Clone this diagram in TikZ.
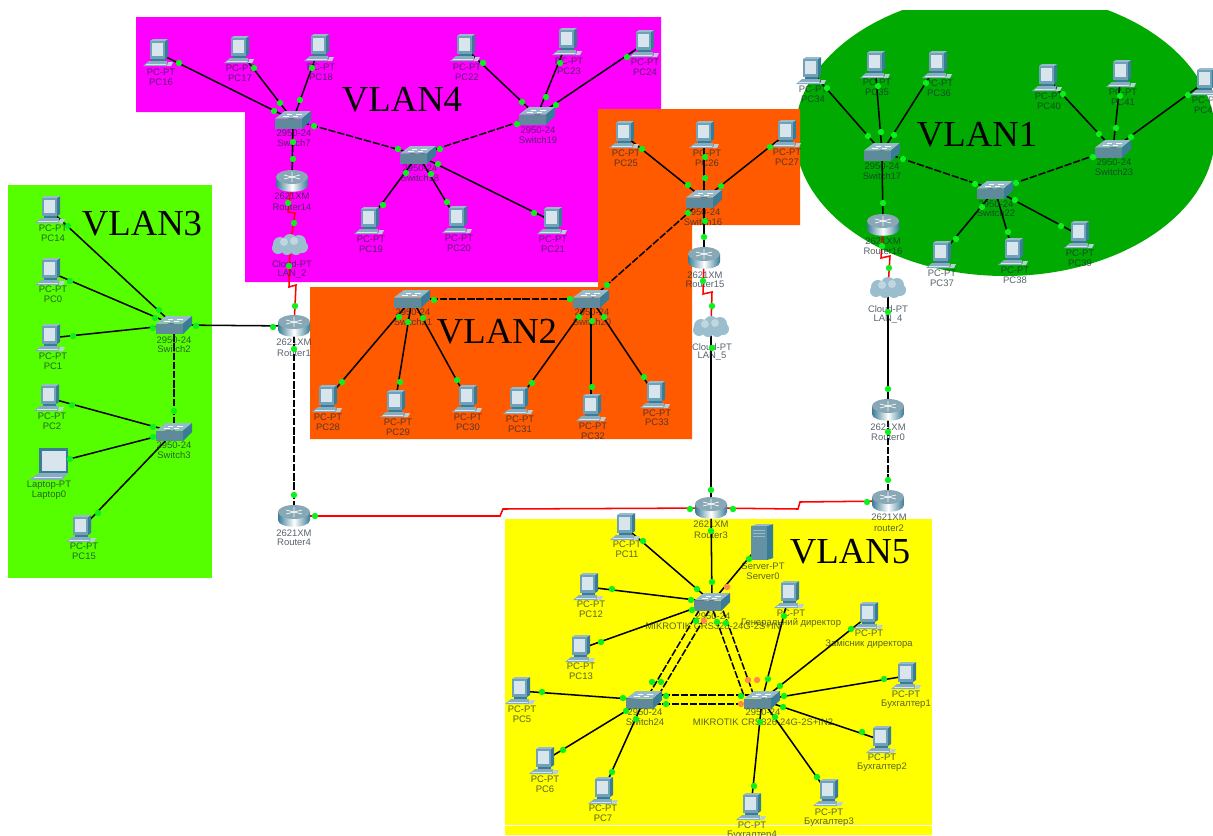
\documentclass[tikz,border=0pt]{standalone}
\usepackage{fontspec}
\setmainfont{Liberation Sans}
\newfontfamily\titlefont{Liberation Serif}
\definecolor{vgreen}{HTML}{55FF00}
\definecolor{vmag}{HTML}{FF00FF}
\definecolor{vorange}{HTML}{FF5A00}
\definecolor{vdark}{HTML}{00AA00}
\definecolor{vyellow}{HTML}{FFFF00}
\definecolor{dotg}{HTML}{0CF01E}
\definecolor{doto}{HTML}{FF8A4A}
\definecolor{iface}{HTML}{6FA2B8}
\definecolor{iside}{HTML}{3A7C96}
\definecolor{itop}{HTML}{97BBCA}
\definecolor{iscreen}{HTML}{D8E5EC}
\definecolor{ibase}{HTML}{86AEC0}
\definecolor{labelc}{HTML}{182838}
\tikzset{
  anchorpt/.style={inner sep=0pt,minimum size=0pt,outer sep=0pt},
  lab/.style={font=\fontsize{7.1pt}{8pt}\selectfont,text=labelc,text opacity=.72,inner sep=0pt},
  vlan/.style={font=\titlefont\fontsize{27.5pt}{30pt}\selectfont,text=black,inner sep=0pt},
  lk/.style={draw=black,line width=1.15pt},
  dl/.style={draw=black,line width=1.15pt,dash pattern=on 5.5pt off 1.4pt},
  rl/.style={draw=red,line width=1.15pt},
  gdot/.style={circle,fill=dotg,inner sep=0pt,minimum size=4.8pt},
  odot/.style={circle,fill=doto,inner sep=0pt,minimum size=4.8pt},
  pics/pcicon/.style={code={
    \fill[iside] (7,-12)--(10,-14)--(10,4)--(7,6)--cycle;
    \fill[itop] (-8,-12)--(-5,-14)--(10,-14)--(7,-12)--cycle;
    \fill[iface] (-8,-12) rectangle (7,6);
    \fill[iscreen] (-6,-10) rectangle (5,3);
    \fill[iside] (-6,6) rectangle (7,8);
    \fill[ibase] (-15,13)--(-9,8)--(9,8)--(9,13)--cycle;
    \draw[iscreen,line width=.4pt] (-12,11)--(8,11);
    \fill[itop!70!white] (10,9)--(15,9)--(13,13)--(9,13)--cycle;
  }},
  pics/swicon/.style={code={
    \fill[itop] (-18,-1.5)--(9,-1.5)--(18,-9)--(-8,-9)--cycle;
    \fill[iface!85!black] (-18,-1.5) rectangle (9,9);
    \fill[iside] (9,-1.5)--(18,-9)--(18,0)--(9,9)--cycle;
    \draw[white,line width=.4pt] (-6,-6)--(-1,-6) (3,-6)--(9,-6) (-10,-4)--(-4,-4) (0,-4)--(5,-4);
  }},
  pics/rticon/.style={code={
    \shade[left color=iside,right color=iside,middle color=white]
      (-16,-4)--(-16,4) .. controls (-16,13) and (16,13) .. (16,4)--(16,-4)--cycle;
    \fill[itop!90!black] (0,-4) ellipse [x radius=16,y radius=7];
    \draw[white,line width=.5pt] (-8,-6)--(8,-2) (8,-6)--(-8,-2) (0,-9)--(0,1);
  }},
  pics/cloudicon/.style={code={
    \fill[iface!70!white] (-10,-1) circle [radius=7] (0,-4) circle [radius=7] (9,-3) circle [radius=7]
       (12,2) circle [radius=6] (-12,3) circle [radius=6] (-3,4) circle [radius=6] (6,4) circle [radius=6];
    \fill[itop!60!white] (-6,-3) circle [radius=4] (4,-4) circle [radius=4];
  }},
  pics/srvicon/.style={code={
    \fill[iside] (5,-16)--(11,-18)--(11,16)--(5,18)--cycle;
    \fill[itop] (-11,-16)--(-5,-18)--(11,-18)--(5,-16)--cycle;
    \fill[iface!90!black] (-11,-16) rectangle (5,18);
    \draw[itop,line width=.4pt] (-9,-12)--(3,-12) (-9,-9)--(3,-9) (-9,-6)--(3,-6);
  }},
  pics/lapicon/.style={code={
    \fill[iside] (-11,-16) rectangle (18,9);
    \fill[iscreen] (-8,-13) rectangle (16,7);
    \fill[ibase] (-21,16)--(-11,9)--(18,9)--(12,16)--cycle;
    \draw[iscreen,line width=.4pt] (-16,13)--(12,13);
  }}
}
% name / x / y / label x / label y1 / label y2 / line1 / line2
\def\pclist{
 pc14/50/210/53/228/238/PC-PT/PC14, pc0/50/272/53/289/299/PC-PT/PC0, pc1/50/338/53/356/366/PC-PT/PC1,
 pc2/49/398/52/416/426/PC-PT/PC2, pc15/81/529/84/546/556/PC-PT/PC15,
 pc16/158/53/161/72/82/PC-PT/PC16, pc17/239/50/240/68/78/PC-PT/PC17, pc18/319/48/321/67/77/PC-PT/PC18,
 pc22/465/48/467/67/77/PC-PT/PC22, pc23/567/42/569/61/71/PC-PT/PC23, pc24/644/44/645/62/72/PC-PT/PC24,
 pc19/369/221/371/239/249/PC-PT/PC19, pc20/457/220/459/238/248/PC-PT/PC20, pc21/552/221/553/239/249/PC-PT/PC21,
 pc25/624/135/626/153/163/PC-PT/PC25, pc26/704/135/707/153/163/PC-PT/PC26, pc27/786/134/787/152/162/PC-PT/PC27,
 pc28/327/399/328/417/427/PC-PT/PC28, pc29/395/404/398/422/432/PC-PT/PC29, pc30/467/399/468/417/427/PC-PT/PC30,
 pc31/518/401/520/419/429/PC-PT/PC31, pc32/591/408/593/426/436/PC-PT/PC32, pc33/655/395/657/413/422/PC-PT/PC33,
 pc34/811/71/813/89/99/PC-PT/PC34, pc35/875/65/877/82/92/PC-PT/PC35, pc36/937/65/939/83/93/PC-PT/PC36,
 pc40/1047/78/1049/96/106/PC-PT/PC40, pc41/1121/74/1123/92/102/PC-PT/PC41, pc42/1205/82/1206/100/110/PC-PT/PC42,
 pc37/941/255/942/273/283/PC-PT/PC37, pc38/1013/252/1015/270/280/PC-PT/PC38, pc39/1079/235/1080/253/263/PC-PT/PC39,
 pc11/625/527/627/544/554/PC-PT/PC11, pc12/588/587/591/604/614/PC-PT/PC12, pc13/580/649/581/666/676/PC-PT/PC13,
 pc5/520/691/522/709/719/PC-PT/PC5, pc6/544/761/545/779/789/PC-PT/PC6, pc7/603/791/603/808/818/PC-PT/PC7,
 pcgd/789/595/791/613/623/PC-PT/{Генеральний директор}, pczd/868/616/869/633/644/PC-PT/{Замісник директора},
 pcb1/906/676/906/694/704/PC-PT/Бухгалтер1, pcb2/881/740/882/757/767/PC-PT/Бухгалтер2,
 pcb3/828/793/829/812/822/PC-PT/Бухгалтер3, pcb4/751/807/752/825/835/PC-PT/Бухгалтер4}
\def\swlist{
 sw2/174/325/174/340/349/2950-24/Switch2, sw3/174/432/174/445/455/2950-24/Switch3,
 sw7/293/120/294/133/143/2950-24/Switch7, sw19/537/116/538/130/140/2950-24/Switch19,
 sw18/418/155/420/168/178/2950-24/Switch18, sw16/704/199/703/212/222/2950-24/Switch16,
 sw21/412/299/413/312/322/2950-24/Switch21, sw20/591/299/592/312/322/2950-24/Switch20,
 sw17/882/152/882/166/176/2950-24/Switch17, sw22/995/190/996/204/213/2950-24/Switch22,
 sw23/1113/149/1114/162/172/2950-24/Switch23,
 swtop/712/602/713/616/626/2950-24/{MIKROTIK CRS328-24G-2S+IN},
 sw24/644/700/645/712/722/2950-24/Switch24,
 swrt/762/700/763/712/722/2950-24/{MIKROTIK CRS326-24G-2S+IN2}}
\def\rtlist{
 r1/294/326/294/342/353/2621XM/Router1, r4/294/516/294/533/542/2621XM/Router4,
 r14/292/181/292/196/207/2621XM/Router14, r15/704/258/705/275/284/2621XM/Router15,
 r16/883/225/883/241/251/2621XM/Router16, r0/888/410/888/427/437/2621XM/Router0,
 r2/888/501/889/517/528/2621XM/router2, r3/711/508/711/524/535/2621XM/Router3}
\def\cllist{
 c2/290/245/292/264/274/Cloud-PT/LAN\_2, c5/711/327/712/347/356/Cloud-PT/LAN\_5, c4/888/288/888/309/319/Cloud-PT/LAN\_4}
\begin{document}
\begin{tikzpicture}[x=0.75pt,y=-0.75pt]
\useasboundingbox (0,0) rectangle (1213,835);
% areas
\fill[white] (0,0) rectangle (1213,835);
\fill[vgreen] (8,185) rectangle (212,578);
\fill[vmag] (136,17)--(661,17)--(661,109)--(598,109)--(598,282)--(245,282)--(245,112)--(136,112)--cycle;
\begin{scope}
  \clip (780,10) rectangle (1213,300);
  \fill[vdark] (1005,134) ellipse [x radius=210,y radius=142];
\end{scope}
\fill[vorange] (598,109)--(800,109)--(800,225)--(692,225)--(692,439)--(310,439)--(310,287)--(598,287)--cycle;
\fill[vyellow] (505,519) rectangle (932,835);
\draw[white,line width=.7pt] (505,825)--(932,825);
% titles
\node[vlan] (t3) at (142,224) {VLAN3};
\node[vlan] (t4) at (402,100) {VLAN4};
\node[vlan] (t1) at (977,135) {VLAN1};
\node[vlan] (t2) at (497,332) {VLAN2};
\node[vlan] (t5) at (850,552) {VLAN5};
% anchors
\foreach \n/\x/\y/\lx/\ya/\yb/\A/\B in \pclist {\node[anchorpt] (\n) at (\x,\y) {};}
\foreach \n/\x/\y/\lx/\ya/\yb/\A/\B in \swlist {\node[anchorpt] (\n) at (\x,\y) {};}
\foreach \n/\x/\y/\lx/\ya/\yb/\A/\B in \rtlist {\node[anchorpt] (\n) at (\x,\y) {};}
\foreach \n/\x/\y/\lx/\ya/\yb/\A/\B in \cllist {\node[anchorpt] (\n) at (\x,\y) {};}
\node[anchorpt] (lap0) at (50,464) {};
\node[anchorpt] (srv0) at (762,542) {};
% solid links
\foreach \a/\b in {pc14/sw2,pc0/sw2,pc1/sw2,pc2/sw3,lap0/sw3,pc15/sw3,sw2/r1,
  pc16/sw7,pc17/sw7,pc18/sw7,pc22/sw19,pc23/sw19,pc24/sw19,sw7/r14,
  sw18/pc19,sw18/pc20,sw18/pc21,pc25/sw16,pc26/sw16,pc27/sw16,sw16/r15,
  sw21/pc28,sw21/pc29,sw21/pc30,sw20/pc31,sw20/pc32,sw20/pc33,
  pc34/sw17,pc35/sw17,pc36/sw17,pc40/sw23,pc41/sw23,pc42/sw23,sw17/r16,
  sw22/pc37,sw22/pc38,sw22/pc39,c4/r0,c5/r3,r3/swtop,srv0/swtop,
  pc11/swtop,pc12/swtop,pc13/swtop,pc5/sw24,pc6/sw24,pc7/sw24,
  pcgd/swrt,pczd/swrt,pcb1/swrt,pcb2/swrt,pcb3/swrt,pcb4/swrt}
  {\draw[lk] (\a)--(\b);}
% dashed links
\foreach \a/\b in {sw2/sw3,r1/r4,sw7/sw18,sw18/sw19,sw21/sw20,sw20/sw16,sw17/sw22,sw22/sw23,r0/r2}
  {\draw[dl] (\a)--(\b);}
\draw[dl] ([shift={(-8,0)}]swtop.center)--([shift={(4,-4)}]sw24.center);
\draw[dl] ([shift={(2,0)}]swtop.center)--([shift={(14,-4)}]sw24.center);
\draw[dl] ([shift={(-2,0)}]swtop.center)--([shift={(-18,-4)}]swrt.center);
\draw[dl] ([shift={(8,0)}]swtop.center)--([shift={(-8,-4)}]swrt.center);
\draw[dl] ([shift={(0,-5)}]sw24.center)--([shift={(0,-5)}]swrt.center);
\draw[dl] ([shift={(0,4)}]sw24.center)--([shift={(0,4)}]swrt.center);
% serial links
\draw[rl] (r14)--(288,212)--(295,213)--(c2);
\draw[rl] (c2)--(289,287)--(296,285)--(r1);
\draw[rl] (r15)--(703,294)--(712,292)--(c5);
\draw[rl] (r16)--(881,258)--(890,256)--(c4);
\draw[rl] (r4)--(500,516)--(503,509)--(r3);
\draw[rl] (r3)--(798,509)--(800,502)--(r2);
% icons and labels
\foreach \n/\x/\y/\lx/\ya/\yb/\A/\B in \pclist {
  \pic at (\n) {pcicon};
  \node[lab] (\n-a) at (\lx,\ya) {\A};
  \node[lab] (\n-b) at (\lx,\yb) {\B};}
\foreach \n/\x/\y/\lx/\ya/\yb/\A/\B in \swlist {
  \pic at (\n) {swicon};
  \node[lab] (\n-a) at (\lx,\ya) {\A};
  \node[lab] (\n-b) at (\lx,\yb) {\B};}
\foreach \n/\x/\y/\lx/\ya/\yb/\A/\B in \rtlist {
  \pic at (\n) {rticon};
  \node[lab] (\n-a) at (\lx,\ya) {\A};
  \node[lab] (\n-b) at (\lx,\yb) {\B};}
\foreach \n/\x/\y/\lx/\ya/\yb/\A/\B in \cllist {
  \pic at (\n) {cloudicon};
  \node[lab] (\n-a) at (\lx,\ya) {\A};
  \node[lab] (\n-b) at (\lx,\yb) {\B};}
\pic at (lap0) {lapicon};
\node[lab] (lap0-a) at (49,485) {Laptop-PT};
\node[lab] (lap0-b) at (49,495) {Laptop0};
\pic at (srv0) {srvicon};
\node[lab] (srv0-a) at (763,566) {Server-PT};
\node[lab] (srv0-b) at (763,576) {Server0};
% link lights
\foreach \x/\y [count=\i] in {
 68/226,159/310,70/281,155/318,73/336,153/328,196/326,273/327,174/411,72/405,153/427,70/459,153/437,98/513,
 294/349,294/495,
 179/63,274/111,254/68,280/103,312/68,300/100,314/126,398/149,293/142,293/159,288/203,294/223,289/266,295/306,
 440/149,517/124,483/63,522/102,560/63,546/97,627/57,556/105,383/205,406/173,447/202,431/174,534/213,438/164,
 642/149,688/185,705/157,705/178,770/147,721/186,688/213,607/285,705/221,704/237,703/281,712/306,712/348,711/490,
 434/300,570/299,342/382,399/317,400/382,408/322,457/380,423/318,532/383,579/317,592/387,592/321,644/377,604/317,
 827/88,868/136,878/86,881/132,926/83,894/135,903/159,975/184,883/203,882/246,889/268,1016/183,1093/157,
 1063/94,1099/134,1120/96,1116/128,1188/95,1131/137,956/239,982/207,1008/232,1061/226,1015/200,
 888/312,888/389,888/432,888/480,315/516,690/509,733/509,867/502,
 643/541,697/589,711/531,712/582,749/559,612/589,691/600,601/642,692/610,696/621,652/682,661/682,717/622,726/623,
 666/696,666/704,741/696,768/679,780/686,784/696,783/707,775/717,760/722,
 784/616,851/629,884/679,862/732,817/777,754/786,542/692,623/698,563/750,626/711,612/772,636/719}
 {\node[gdot] (g\i) at (\x,\y) {};}
\foreach \x/\y [count=\i] in {727/587,704/621,748/680,757/680,741/704}
 {\node[odot] (o\i) at (\x,\y) {};}
\end{tikzpicture}
\end{document}
